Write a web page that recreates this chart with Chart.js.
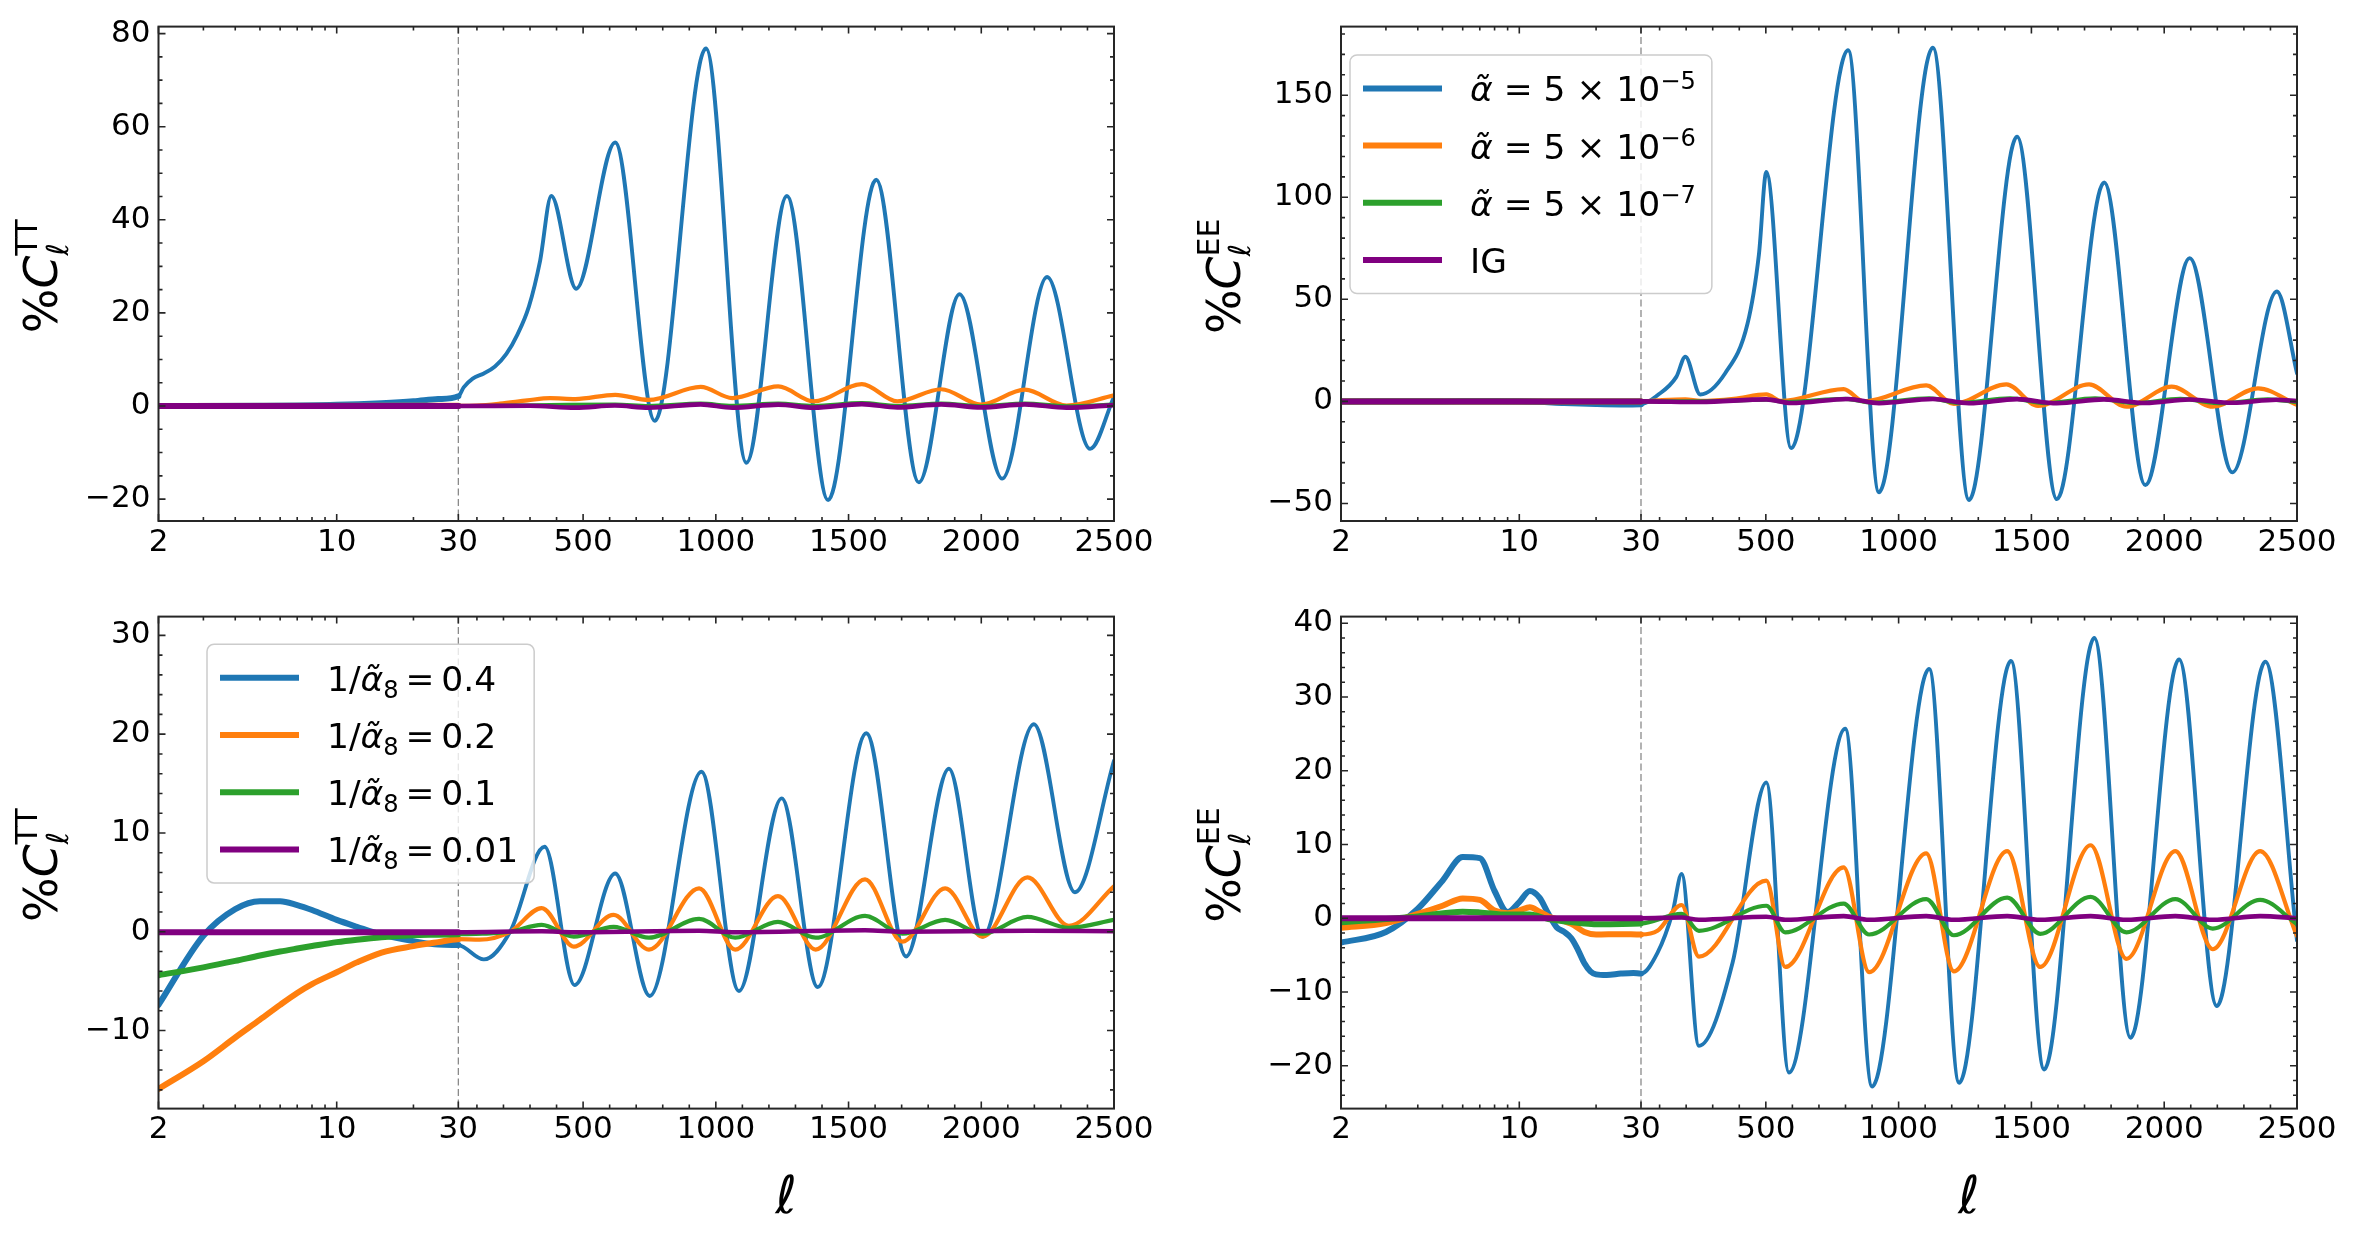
<!DOCTYPE html>
<html>
<head>
<meta charset="utf-8">
<title>Relative change of C_ell TT / EE</title>
<script src="https://cdn.jsdelivr.net/npm/chart.js@4.4.1/dist/chart.umd.min.js"></script>
<style>
  html, body { margin: 0; background: #fff; }
  #fig { position: relative; width: 2354px; height: 1239px; overflow: hidden; }
  #fig canvas { position: absolute; }
</style>
</head>
<body>
<div id="fig">
  <canvas id="ttAlpha" width="1177" height="590" style="left:0;top:0"></canvas>
  <canvas id="eeAlpha" width="1177" height="590" style="left:1177px;top:0"></canvas>
  <canvas id="ttInv" width="1177" height="649" style="left:0;top:590px"></canvas>
  <canvas id="eeInv" width="1177" height="649" style="left:1177px;top:590px"></canvas>
</div>
<script>
// ---- data: [ell, percent change] ----
// top row: alpha-tilde models
const ttAlphaBlue = [[2,0],[5,0.05],[10,0.25],[15,0.6],[20,1.0],[25,1.5],[30,2.1],
  [50,4.0],[84,5.9],[126,7.0],[168,8.5],[211,11.2],[253,15.4],[296,21.4],[338,31.2],[380,45.1],
  [474,25.2],[621,56.6],[770,-3.2],[963,76.8],[1115,-12.2],[1268,45.1],[1423,-20.2],
  [1604,48.6],[1765,-16.4],[1918,24.0],[2079,-15.6],[2248,27.7],[2410,-9.2],[2500,2.0]];
const ttAlphaOrange = [[2,0],[30,0.05],[100,0.1],[187,0.5],[290,1.2],[376,1.7],[471,1.5],[621,2.4],
  [747,1.3],[943,4.1],[1062,1.7],[1235,4.2],[1369,1.0],[1550,4.7],[1684,1.0],[1849,3.6],
  [1999,0.3],[2164,3.5],[2321,0.1],[2500,2.3]];
const ttAlphaGreen = [[2,0],[30,0],[376,0.2],[621,0.3],[747,0],[943,0.5],[1062,0.05],[1235,0.5],
  [1369,0],[1550,0.6],[1684,0],[1849,0.5],[1999,-0.05],[2164,0.5],[2321,-0.05],[2500,0.3]];
const ttAlphaPurple = [[2,0],[30,0],[300,0.05],[471,-0.35],[620,0.1],[747,-0.35],[943,0.35],
  [1062,-0.35],[1235,0.3],[1369,-0.35],[1550,0.4],[1684,-0.3],[1849,0.35],[1999,-0.3],
  [2164,0.35],[2321,-0.35],[2500,0.2]];

const eeAlphaBlue = [[2,0],[5,0.1],[8,0.2],[10,0.1],[12,-0.2],[15,-0.8],[20,-1.3],[25,-1.5],[30,-1.4],
  [92,3.0],[163,12.0],[197,21.9],[253,3.4],[347,13.8],[431,38.0],[474,72.0],[502,112.4],
  [595,-22.9],[810,172.0],[926,-44.5],[1129,173.3],[1265,-48.3],[1446,129.7],[1596,-47.9],
  [1774,107.2],[1929,-41.0],[2096,70.2],[2257,-34.8],[2424,53.8],[2500,13.8]];
const eeAlphaOrange = [[2,0],[30,0],[92,0.5],[197,1.0],[253,0.2],[380,1.2],[502,3.4],[558,0.2],
  [793,6.0],[869,0],[1104,7.8],[1208,-1.2],[1406,8.3],[1525,-2.2],[1717,8.3],[1858,-2.6],
  [2028,7.2],[2183,-2.6],[2353,6.4],[2500,-1.7]];
const eeAlphaGreen = [[2,0],[30,0],[253,0],[502,0.8],[580,-0.3],[800,1.2],[900,-0.6],[1115,1.5],
  [1230,-0.8],[1420,1.5],[1550,-0.9],[1740,1.5],[1890,-0.9],[2060,1.2],[2220,-0.9],[2390,1.0],[2500,-0.4]];
const eeAlphaPurple = [[2,0],[30,0],[253,-0.3],[502,1.0],[595,-0.8],[810,1.2],[926,-0.9],[1129,1.2],
  [1265,-0.9],[1446,1.1],[1596,-0.9],[1774,1.0],[1929,-0.8],[2096,0.9],[2257,-0.7],[2424,0.8],[2500,0.2]];

// bottom row: 1/alpha_8 models
const ttInvBlue = [[2,-7.4],[3,-0.4],[4,2.3],[5,3.1],[6,3.1],[7,2.7],[8,2.2],[10,1.2],[12,0.5],
  [15,-0.3],[20,-0.95],[25,-1.3],[30,-1.35],[126,-2.8],[225,0],[355,8.6],[468,-5.4],[621,5.9],
  [751,-6.5],[946,16.2],[1087,-6.0],[1248,13.5],[1384,-5.6],[1567,20.1],[1717,-2.5],[1878,16.5],
  [2005,-0.5],[2198,21.0],[2353,4.0],[2500,17.3]];
const ttInvOrange = [[2,-15.9],[3,-13.1],[4,-10.7],[5,-8.9],[6,-7.4],[7,-6.2],[8,-5.3],[10,-4.1],
  [12,-3.1],[15,-2.1],[20,-1.45],[25,-1.05],[30,-0.75],[110,-0.8],[225,0],[344,2.4],[465,-1.5],
  [615,1.7],[748,-1.8],[937,4.4],[1073,-1.8],[1234,3.6],[1376,-1.8],[1562,5.3],[1703,-1.0],
  [1864,4.4],[2005,-0.5],[2174,5.5],[2330,0.6],[2500,4.6]];
const ttInvGreen = [[2,-4.4],[3,-3.6],[4,-2.95],[5,-2.4],[6,-2.0],[7,-1.7],[8,-1.45],[10,-1.05],
  [12,-0.8],[15,-0.55],[20,-0.35],[25,-0.3],[30,-0.25],[120,-0.2],[225,0],[344,0.7],[465,-0.5],
  [615,0.5],[748,-0.6],[937,1.3],[1073,-0.6],[1234,1.0],[1376,-0.6],[1562,1.6],[1703,-0.2],
  [1864,1.2],[2005,-0.2],[2174,1.5],[2330,0.4],[2500,1.2]];
const ttInvPurple = [[2,-0.05],[30,-0.05],[344,0.05],[465,-0.05],[937,0.1],[1073,-0.05],
  [1562,0.15],[1703,0],[2174,0.1],[2500,0.05]];

const eeInvBlue = [[2,-3.3],[3,-1.85],[4,1.3],[5,5.1],[6,8.3],[7,8.15],[8,3.7],[9,0.85],[10,2.2],
  [11,3.7],[12,2.8],[13,0.6],[14,-1.2],[15,-1.85],[16,-2.7],[17,-4.3],[18,-6.1],[19,-7.2],[20,-7.6],
  [22,-7.7],[25,-7.5],[28,-7.4],[30,-7.5],[92,-4.7],[149,0.8],[183,6.0],[248,-17.3],[375,-6.0],
  [502,18.4],[587,-20.9],[799,25.7],[900,-22.8],[1115,33.8],[1228,-22.3],[1423,34.9],[1548,-20.5],
  [1737,38.0],[1873,-16.2],[2056,35.1],[2198,-11.9],[2381,34.8],[2500,-3.0]];
const eeInvOrange = [[2,-1.3],[3,-0.65],[4,0.6],[5,1.7],[6,2.7],[7,2.5],[8,1.05],[9,0.7],[10,1.05],
  [11,1.5],[12,0.9],[13,0.25],[15,-0.4],[16,-0.75],[18,-1.85],[20,-2.2],[25,-2.15],[30,-2.2],
  [92,-1.7],[183,1.8],[248,-5.2],[502,5.1],[573,-6.6],[793,6.9],[889,-7.3],[1104,8.8],[1208,-7.2],
  [1409,9.1],[1533,-6.6],[1723,9.9],[1858,-5.5],[2042,9.1],[2183,-4.2],[2361,9.1],[2500,-2.4]];
const eeInvGreen = [[2,-0.55],[4,0.25],[6,0.9],[7,0.8],[9,0.5],[11,0.5],[13,-0.1],[18,-0.7],[20,-0.8],
  [30,-0.7],[183,0.6],[248,-1.7],[502,1.7],[573,-1.9],[793,2.0],[889,-2.2],[1104,2.6],[1208,-2.3],
  [1409,2.8],[1533,-2.1],[1723,2.9],[1858,-1.9],[2042,2.6],[2183,-1.4],[2361,2.5],[2500,-0.8]];
const eeInvPurple = [[2,0],[30,0],[183,0.1],[248,-0.2],[502,0.2],[573,-0.2],[793,0.3],[889,-0.2],
  [1104,0.3],[1208,-0.2],[1409,0.3],[1533,-0.2],[1723,0.3],[1858,-0.2],[2042,0.3],[2183,-0.2],
  [2361,0.3],[2500,0]];

// ---- ticks ----
const xMajorTicks = [2, 10, 30, 500, 1000, 1500, 2000, 2500];
const xMinorLog = [3, 4, 5, 6, 7, 8, 9, 20];
const yTicksTTAlpha = [-20, 0, 20, 40, 60, 80];
const yTicksEEAlpha = [-50, 0, 50, 100, 150];
const yTicksTTInv = [-10, 0, 10, 20, 30];
const yTicksEEInv = [-20, -10, 0, 10, 20, 30, 40];

// ---- legend labels (mathtext-like runs) ----
const alphaLegend = [
  [{ t: 'α\u0303', it: true }, { t: ' = 5 × 10' }, { t: '−5', s: 0.7, dy: -0.36 }],
  [{ t: 'α\u0303', it: true }, { t: ' = 5 × 10' }, { t: '−6', s: 0.7, dy: -0.36 }],
  [{ t: 'α\u0303', it: true }, { t: ' = 5 × 10' }, { t: '−7', s: 0.7, dy: -0.36 }],
  [{ t: 'IG' }]
];
const invLegend = ['0.4', '0.2', '0.1', '0.01'].map(v =>
  [{ t: '1/' }, { t: 'α\u0303', it: true }, { t: '8', s: 0.7, dy: 0.2 }, { t: '\u2009=\u2009' + v }]);

const yTitleTT = [{ t: '%' }, { t: 'C', it: true }, { t: 'ℓ', it: true, s: 0.64, dy: 0.23, stack: true }, { t: 'TT', s: 0.64, dy: -0.43 }];
const yTitleEE = [{ t: '%' }, { t: 'C', it: true }, { t: 'ℓ', it: true, s: 0.64, dy: 0.23, stack: true }, { t: 'EE', s: 0.64, dy: -0.43 }];

const COLORS = ['#1f77b4', '#ff7f0e', '#2ca02c', '#800080'];
const LINE_W = [3.9, 4.2, 4.2, 4.6];
const LOG_LINE_W = 6;
const FONT = "'DejaVu Sans', sans-serif";
const TICK_FS = 31;

// x axis: log from 2 to 30, linear from 30 to 2500
const LOG_SHARE = 300 / 956;
class SplitScale extends Chart.LinearScale {
  buildTicks() { return xMajorTicks.map(v => ({ value: v })); }
  getPixelForValue(v) {
    const f = v <= 30 ? LOG_SHARE * Math.log(v / 2) / Math.log(15)
                      : LOG_SHARE + (1 - LOG_SHARE) * (v - 30) / 2470;
    return this.getPixelForDecimal(f);
  }
  getValueForPixel(p) {
    const f = this.getDecimalForPixel(p);
    return f <= LOG_SHARE ? 2 * Math.pow(15, f / LOG_SHARE)
                          : 30 + (f - LOG_SHARE) / (1 - LOG_SHARE) * 2470;
  }
}
SplitScale.id = 'split';
SplitScale.defaults = {};
Chart.register(SplitScale);

function runFont(r, base) {
  return (r.it ? 'italic ' : '') + (base * (r.s || 1)) + 'px ' + FONT;
}
function runsWidth(ctx, runs, base) {
  let w = 0;
  for (const r of runs) { ctx.font = runFont(r, base); if (!r.stack) w += ctx.measureText(r.t).width; }
  return w;
}
function drawRuns(ctx, runs, x, y, base) {
  let cx = x;
  for (const r of runs) {
    ctx.font = runFont(r, base);
    ctx.fillText(r.t, cx, y + (r.dy || 0) * base);
    if (!r.stack) cx += ctx.measureText(r.t).width;
  }
}

const decor = {
  id: 'decor',
  beforeDatasetsDraw(chart) {
    const { ctx, chartArea: a, scales: { x } } = chart;
    const px = x.getPixelForValue(30);
    ctx.save();
    ctx.strokeStyle = '#8a8a8a';
    ctx.lineWidth = 1.3;
    ctx.setLineDash([7, 3.5]);
    ctx.beginPath();
    ctx.moveTo(px, a.top);
    ctx.lineTo(px, a.bottom);
    ctx.stroke();
    ctx.restore();
  },
  afterDatasetsDraw(chart, args, o) {
    if (!o.legend) return;
    const { ctx, chartArea: a } = chart;
    const fs = 34.5;
    const left = a.left + o.legend.dx, top = a.top + o.legend.dy;
    const textW = Math.max(...o.legend.labels.map(r => runsWidth(ctx, r, fs)));
    const w = 120 + textW + 16, h = 33.5 * 2 + 57.2 * 3;
    ctx.save();
    ctx.beginPath();
    ctx.roundRect(left, top, w, h, 7);
    ctx.fillStyle = 'rgba(255,255,255,0.8)';
    ctx.fill();
    ctx.strokeStyle = '#cccccc';
    ctx.lineWidth = 1.5;
    ctx.stroke();
    o.legend.labels.forEach((runs, i) => {
      const cy = top + 33.5 + i * 57.2;
      ctx.strokeStyle = COLORS[i];
      ctx.lineWidth = 6;
      ctx.beginPath();
      ctx.moveTo(left + 13, cy);
      ctx.lineTo(left + 92, cy);
      ctx.stroke();
      ctx.fillStyle = '#000';
      ctx.textBaseline = 'alphabetic';
      drawRuns(ctx, runs, left + 120, cy + 13, fs);
    });
    ctx.restore();
  },
  afterDraw(chart, args, o) {
    const { ctx, chartArea: a, scales: { x, y } } = chart;
    ctx.save();
    ctx.strokeStyle = '#262626';
    ctx.lineWidth = 1.6;
    ctx.beginPath();
    const xt = (v, len) => {
      const p = x.getPixelForValue(v);
      ctx.moveTo(p, a.bottom); ctx.lineTo(p, a.bottom - len);
      ctx.moveTo(p, a.top); ctx.lineTo(p, a.top + len);
    };
    const yt = (v, len) => {
      const p = y.getPixelForValue(v);
      ctx.moveTo(a.left, p); ctx.lineTo(a.left + len, p);
      ctx.moveTo(a.right, p); ctx.lineTo(a.right - len, p);
    };
    xMajorTicks.forEach(v => xt(v, 7));
    xMinorLog.forEach(v => xt(v, 4));
    for (let v = 100; v < 2500; v += 100) if (v % 500) xt(v, 4);
    o.yTicks.forEach(v => yt(v, 7));
    const step = o.yMinor;
    for (let v = Math.ceil(y.min / step) * step; v <= y.max; v += step) {
      if (!o.yTicks.some(t => Math.abs(t - v) < 1e-9)) yt(v, 4);
    }
    ctx.stroke();
    ctx.lineWidth = 2;
    ctx.strokeRect(a.left, a.top, a.right - a.left, a.bottom - a.top);

    // y title, rotated
    ctx.fillStyle = '#000';
    ctx.textBaseline = 'alphabetic';
    const ys = 47;
    const len = runsWidth(ctx, o.yTitle, ys);
    ctx.translate(a.left - 101.5, (a.top + a.bottom) / 2 + 2.5 + len / 2);
    ctx.rotate(-Math.PI / 2);
    drawRuns(ctx, o.yTitle, 0, 0, ys);
    ctx.setTransform(1, 0, 0, 1, 0, 0);
    ctx.restore();

    if (o.xTitle) {
      ctx.save();
      const p30 = x.getPixelForValue(30);
      ctx.font = 'italic 52px ' + FONT;
      ctx.fillStyle = '#000';
      ctx.textAlign = 'center';
      ctx.textBaseline = 'alphabetic';
      ctx.fillText('ℓ', (p30 + a.right) / 2, a.bottom + 104.5);
      ctx.restore();
    }
  }
};

function makePanel(id, series, yMin, yMax, yTicks, yMinor, yTitle, box, extra) {
  const datasets = series.map((pts, i) => ({
    data: pts.map(([l, v]) => ({ x: l, y: v })),
    borderColor: COLORS[i],
    borderWidth: LINE_W[i],
    borderCapStyle: 'round',
    borderJoinStyle: 'round',
    pointRadius: 0,
    fill: false,
    cubicInterpolationMode: 'monotone',
    clip: 0,
    order: 4 - i,
    segment: { borderWidth: c => (c.p1.parsed.x <= 30 ? LOG_LINE_W : LINE_W[i]) }
  }));
  return new Chart(document.getElementById(id), {
    type: 'line',
    data: { datasets },
    options: {
      responsive: false,
      animation: false,
      events: [],
      layout: { padding: { left: 0, top: box.top, right: box.right, bottom: 0 } },
      scales: {
        x: {
          type: 'split', min: 2, max: 2500,
          grid: { display: false, drawTicks: false }, border: { display: false },
          ticks: { autoSkip: false, maxRotation: 0, minRotation: 0, padding: 3, color: '#000',
                   font: { size: TICK_FS, family: FONT }, callback: v => String(v) },
          afterFit: s => { s.height = box.xH; }
        },
        y: {
          type: 'linear', min: yMin, max: yMax,
          grid: { display: false, drawTicks: false }, border: { display: false },
          ticks: { padding: 8, color: '#000', font: { size: TICK_FS, family: FONT },
                   callback: v => (v < 0 ? '\u2212' + Math.abs(v) : String(v)) },
          afterBuildTicks: s => { s.ticks = yTicks.map(v => ({ value: v })); },
          afterFit: s => { s.width = box.yW; }
        }
      },
      plugins: {
        legend: { display: false },
        tooltip: { enabled: false },
        decor: Object.assign({ yTicks, yMinor, yTitle }, extra)
      }
    },
    plugins: [decor]
  });
}

makePanel('ttAlpha', [ttAlphaBlue, ttAlphaOrange, ttAlphaGreen, ttAlphaPurple],
  -24.7, 81.5, yTicksTTAlpha, 5, yTitleTT,
  { top: 20, right: 63, yW: 158.5, xH: 69 }, {});
makePanel('eeAlpha', [eeAlphaBlue, eeAlphaOrange, eeAlphaGreen, eeAlphaPurple],
  -58.6, 183.6, yTicksEEAlpha, 10, yTitleEE,
  { top: 20, right: 57, yW: 164, xH: 69 },
  { legend: { dx: 9, dy: 28.3, labels: alphaLegend } });
makePanel('ttInv', [ttInvBlue, ttInvOrange, ttInvGreen, ttInvPurple],
  -17.9, 31.9, yTicksTTInv, 2, yTitleTT,
  { top: 17, right: 63, yW: 158.5, xH: 130.4 },
  { xTitle: true, legend: { dx: 48.5, dy: 27.7, labels: invLegend } });
makePanel('eeInv', [eeInvBlue, eeInvOrange, eeInvGreen, eeInvPurple],
  -25.8, 40.9, yTicksEEInv, 2, yTitleEE,
  { top: 17, right: 57, yW: 164, xH: 130.4 },
  { xTitle: true });
</script>
</body>
</html>
